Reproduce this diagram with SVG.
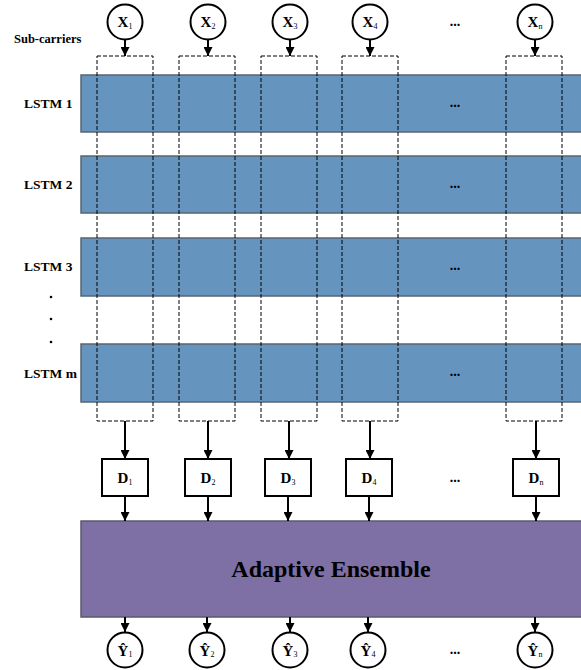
<svg xmlns="http://www.w3.org/2000/svg" width="581" height="670" viewBox="0 0 581 670">
<defs>
<marker id="ah" viewBox="0 0 10 10" refX="10" refY="5" markerWidth="9" markerHeight="9" markerUnits="userSpaceOnUse" orient="auto">
<path d="M0,0 L10,5 L0,10 z" fill="#000"/>
</marker>
<style>
text{font-family:"Liberation Serif","Times New Roman",serif;fill:#000}
.lbl{font-size:13.5px;font-weight:bold}
.big{font-size:15px;font-weight:bold}
.sub{font-size:8px;font-weight:normal}
.circ{fill:#fff;stroke:#000;stroke-width:2}
.dbox{fill:#fff;stroke:#000;stroke-width:2}
.bar{fill:#6595BE;stroke:#5a6470;stroke-width:1.5}
.dash{fill:none;stroke:#000;stroke-width:1;stroke-dasharray:4,2}
.ar{stroke:#000;stroke-width:2;fill:none;marker-end:url(#ah)}
.dots{font-size:14px;font-weight:bold}
</style>
</defs>
<rect width="581" height="670" fill="#fff"/>

<text x="14" y="43" style="font-size:12.5px;font-weight:bold">Sub-carriers</text>

<g id="lstm1"><rect class="bar" x="81" y="75" width="502" height="57"/><text class="lbl" x="24" y="108">LSTM 1</text></g>
<g id="lstm2"><rect class="bar" x="81" y="156" width="502" height="57"/><text class="lbl" x="24" y="189">LSTM 2</text></g>
<g id="lstm3"><rect class="bar" x="81" y="238" width="502" height="58"/><text class="lbl" x="24" y="271">LSTM 3</text></g>
<g id="lstmm"><rect class="bar" x="81" y="344" width="502" height="58"/><text class="lbl" x="24" y="378">LSTM m</text></g>
<g id="vdots"><circle cx="51" cy="297" r="1.3"/><circle cx="51" cy="319" r="1.3"/><circle cx="51" cy="342" r="1.3"/></g>
<g id="bardots">
<text class="dots" x="455" y="107" text-anchor="middle">...</text>
<text class="dots" x="455" y="188" text-anchor="middle">...</text>
<text class="dots" x="455" y="270" text-anchor="middle">...</text>
<text class="dots" x="455" y="376" text-anchor="middle">...</text>
</g>

<g id="dashed">
<rect class="dash" x="97" y="56" width="56" height="365"/>
<rect class="dash" x="179" y="56" width="56" height="365"/>
<rect class="dash" x="261" y="56" width="56" height="365"/>
<rect class="dash" x="342" y="56" width="56" height="365"/>
<rect class="dash" x="506" y="56" width="56" height="365"/>
</g>

<g id="x1"><circle class="circ" cx="125" cy="22" r="17.5"/><text class="big" x="125" y="27" text-anchor="middle">X<tspan class="sub" dy="2">1</tspan></text></g>
<g id="x2"><circle class="circ" cx="208" cy="22" r="17.5"/><text class="big" x="208" y="27" text-anchor="middle">X<tspan class="sub" dy="2">2</tspan></text></g>
<g id="x3"><circle class="circ" cx="290" cy="22" r="17.5"/><text class="big" x="290" y="27" text-anchor="middle">X<tspan class="sub" dy="2">3</tspan></text></g>
<g id="x4"><circle class="circ" cx="370" cy="22" r="17.5"/><text class="big" x="370" y="27" text-anchor="middle">X<tspan class="sub" dy="2">4</tspan></text></g>
<g id="xn"><circle class="circ" cx="535" cy="22" r="17.5"/><text class="big" x="535" y="27" text-anchor="middle">X<tspan class="sub" dy="2">n</tspan></text></g>
<text class="dots" x="455" y="26" text-anchor="middle">...</text>

<g id="d1"><rect class="dbox" x="102" y="459" width="46" height="37"/><text class="big" x="125" y="483" text-anchor="middle">D<tspan class="sub" dy="2">1</tspan></text></g>
<g id="d2"><rect class="dbox" x="185" y="459" width="46" height="37"/><text class="big" x="208" y="483" text-anchor="middle">D<tspan class="sub" dy="2">2</tspan></text></g>
<g id="d3"><rect class="dbox" x="265" y="459" width="46" height="37"/><text class="big" x="288" y="483" text-anchor="middle">D<tspan class="sub" dy="2">3</tspan></text></g>
<g id="d4"><rect class="dbox" x="346" y="459" width="46" height="37"/><text class="big" x="369" y="483" text-anchor="middle">D<tspan class="sub" dy="2">4</tspan></text></g>
<g id="dn"><rect class="dbox" x="513" y="459" width="46" height="37"/><text class="big" x="536" y="483" text-anchor="middle">D<tspan class="sub" dy="2">n</tspan></text></g>
<text class="dots" x="455" y="482" text-anchor="middle">...</text>

<g id="ensemble"><rect x="81" y="521" width="502" height="96" fill="#7E70A5" stroke="#5a5a6a" stroke-width="1.5"/><text x="331" y="577" text-anchor="middle" style="font-size:24px;font-weight:bold">Adaptive Ensemble</text></g>

<g id="y1"><circle class="circ" cx="125" cy="650" r="17.5"/><text class="big" x="125" y="656" text-anchor="middle">Ŷ<tspan class="sub" dy="1">1</tspan></text></g>
<g id="y2"><circle class="circ" cx="207" cy="650" r="17.5"/><text class="big" x="207" y="656" text-anchor="middle">Ŷ<tspan class="sub" dy="1">2</tspan></text></g>
<g id="y3"><circle class="circ" cx="290" cy="650" r="17.5"/><text class="big" x="290" y="656" text-anchor="middle">Ŷ<tspan class="sub" dy="1">3</tspan></text></g>
<g id="y4"><circle class="circ" cx="368" cy="650" r="17.5"/><text class="big" x="368" y="656" text-anchor="middle">Ŷ<tspan class="sub" dy="1">4</tspan></text></g>
<g id="yn"><circle class="circ" cx="535" cy="650" r="17.5"/><text class="big" x="535" y="656" text-anchor="middle">Ŷ<tspan class="sub" dy="1">n</tspan></text></g>
<text class="dots" x="455" y="654" text-anchor="middle">...</text>

<g id="connectors">
<line class="ar" x1="125" y1="40" x2="125" y2="56"/>
<line class="ar" x1="208" y1="40" x2="208" y2="56"/>
<line class="ar" x1="290" y1="40" x2="290" y2="56"/>
<line class="ar" x1="370" y1="40" x2="370" y2="56"/>
<line class="ar" x1="535" y1="40" x2="535" y2="56"/>
<line class="ar" x1="125" y1="421" x2="125" y2="459"/>
<line class="ar" x1="208" y1="421" x2="208" y2="459"/>
<line class="ar" x1="289" y1="421" x2="289" y2="459"/>
<line class="ar" x1="370" y1="421" x2="370" y2="459"/>
<line class="ar" x1="536" y1="421" x2="536" y2="459"/>
<line class="ar" x1="125" y1="496" x2="125" y2="521"/>
<line class="ar" x1="208" y1="496" x2="208" y2="521"/>
<line class="ar" x1="288" y1="496" x2="288" y2="521"/>
<line class="ar" x1="369" y1="496" x2="369" y2="521"/>
<line class="ar" x1="536" y1="496" x2="536" y2="521"/>
<line class="ar" x1="125" y1="617" x2="125" y2="632"/>
<line class="ar" x1="207" y1="617" x2="207" y2="632"/>
<line class="ar" x1="290" y1="617" x2="290" y2="632"/>
<line class="ar" x1="368" y1="617" x2="368" y2="632"/>
<line class="ar" x1="535" y1="617" x2="535" y2="632"/>
</g>
</svg>
